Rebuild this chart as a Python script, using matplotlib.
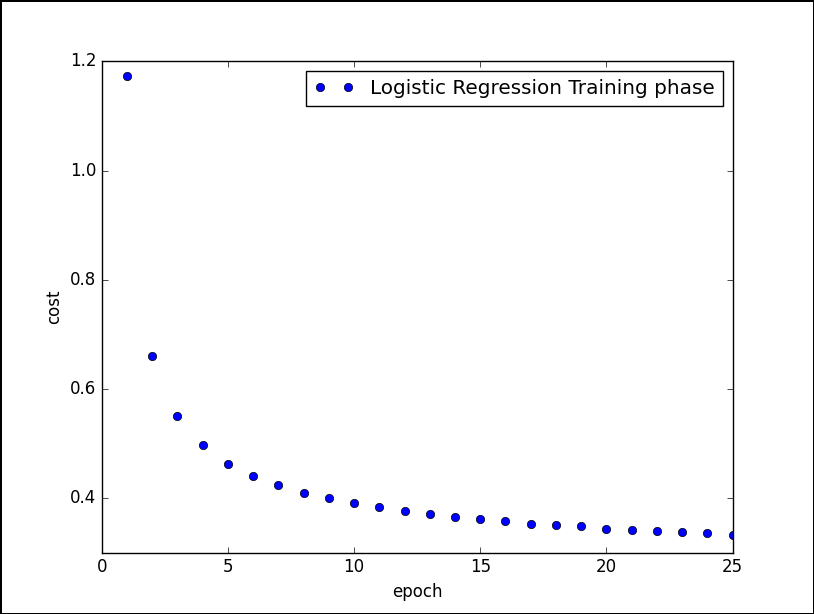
import matplotlib
matplotlib.use('Agg')
import matplotlib.pyplot as plt
import matplotlib as mpl
mpl.style.use('classic')

epochs = list(range(1, 26))
costs = [1.174, 0.661, 0.551, 0.498, 0.463, 0.441, 0.424, 0.410, 0.400, 0.391,
         0.384, 0.377, 0.371, 0.366, 0.362, 0.357, 0.353, 0.351, 0.348, 0.344,
         0.342, 0.339, 0.337, 0.335, 0.333]

fig = plt.figure(figsize=(8.14, 6.14), dpi=100, linewidth=2, edgecolor='black')
ax = fig.add_subplot(111)
ax.plot(epochs, costs, 'bo', label='Logistic Regression Training phase')
ax.set_xlim(0, 25)
ax.set_ylim(0.3, 1.2)
ax.set_yticks([0.4, 0.6, 0.8, 1.0, 1.2])
ax.set_xlabel('epoch')
ax.set_ylabel('cost')
ax.legend(loc='upper right', numpoints=2)
fig.savefig('out.png', dpi=100, edgecolor=fig.get_edgecolor())
